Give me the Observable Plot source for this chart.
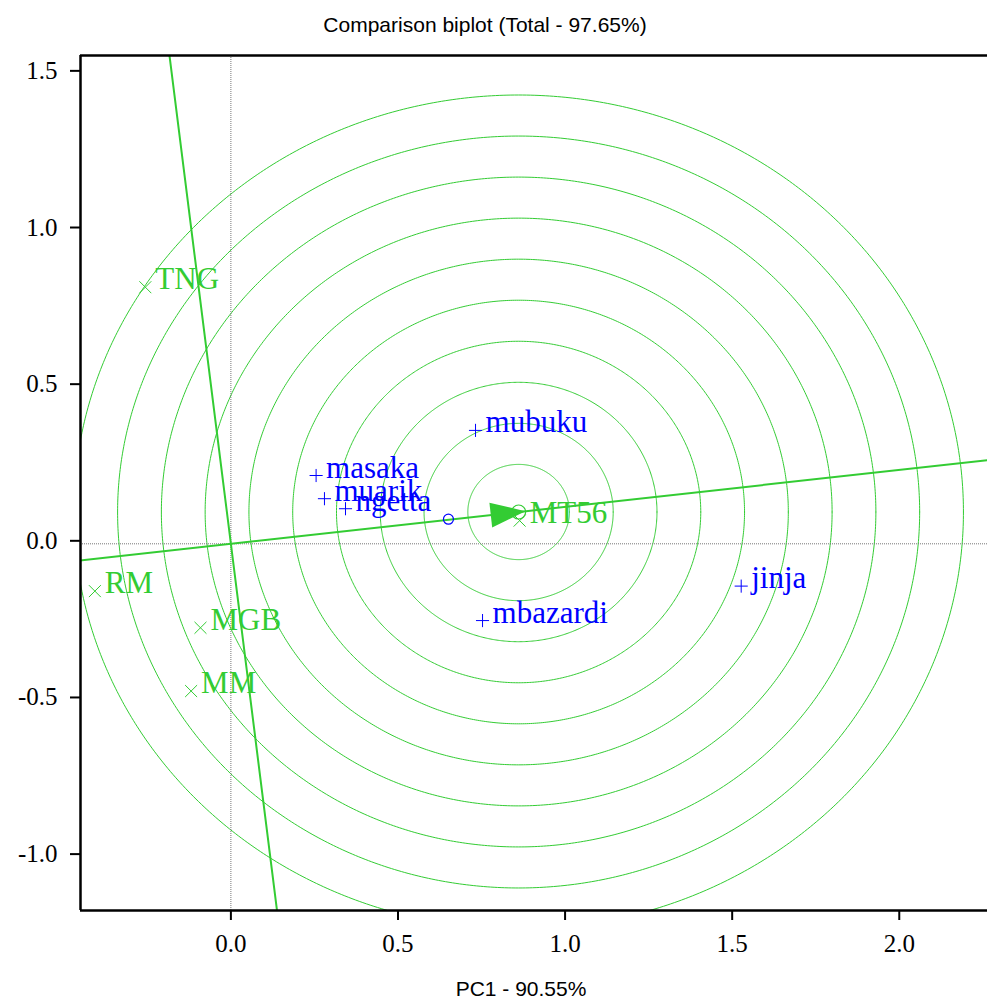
<!DOCTYPE html>
<html><head><meta charset="utf-8">
<script src="https://cdn.jsdelivr.net/npm/d3@7"></script>
<script src="https://cdn.jsdelivr.net/npm/@observablehq/plot@0.6"></script>
<style>body{margin:0;background:#fff;overflow:hidden}</style>
</head><body><div id="chart"></div>
<script>
// ---- data ----
const genotypes = ["mubuku", "masaka", "muarik", "ngetta", "mbazardi", "jinja"];
const genoPC1 = [0.732, 0.255, 0.280, 0.343, 0.753, 1.527];
const genoPC2 = [0.362, 0.218, 0.144, 0.112, -0.245, -0.135];
const environments = ["TNG", "RM", "MGB", "MM", "MT56"];
const envPC1 = [-0.256, -0.407, -0.091, -0.119, 0.864];
const envPC2 = [0.819, -0.151, -0.268, -0.470, 0.074];
const averageEnv = [0.651, 0.0785];
const idealPoint = [0.861, 0.1015];
const circleRadii = [0.152, 0.283, 0.414, 0.545, 0.676, 0.807, 0.938, 1.069, 1.200, 1.331];
const xTicks = [0, 0.5, 1, 1.5, 2];
const yTicks = [-1, -0.5, 0, 0.5, 1, 1.5];
const xDomain = [-0.450, 2.264];
const yDomain = [-1.1704, 1.5586];
const titleText = "Comparison biplot (Total - 97.65%)";
const xLabelText = "PC1 - 90.55%";

// ---- derived tables ----
const genoData = genotypes.map((n, i) => ({name: n, x: genoPC1[i], y: genoPC2[i]}));
const envData = environments.map((n, i) => ({name: n, x: envPC1[i], y: envPC2[i]}));
const circlePts = [];
for (const r of circleRadii) {
  for (let k = 0; k <= 720; k++) {
    const t = (k / 720) * 2 * Math.PI;
    circlePts.push({r, x: idealPoint[0] + r * Math.cos(t), y: idealPoint[1] + r * Math.sin(t)});
  }
}
const ext = 20;
const aeaLine = [-ext, ext].map(t => ({x: t * idealPoint[0], y: t * idealPoint[1]}));
const perpLine = [-ext, ext].map(t => ({x: -t * idealPoint[1], y: t * idealPoint[0]}));

const W = 987, H = 1001, mL = 80, mR = 0, mT = 55, mB = 91;
const kx = (W - mL - mR) / (xDomain[1] - xDomain[0]);
const ky = (H - mT - mB) / (yDomain[1] - yDomain[0]);
const angle = Math.atan2(-idealPoint[1] * ky, idealPoint[0] * kx) * 180 / Math.PI;
const arrowHead = {draw(ctx) { ctx.moveTo(7, 0); ctx.lineTo(-28, -12.5); ctx.lineTo(-28, 12.5); ctx.closePath(); }};

const green = "#33cc33";
const blue = "#0000ff";
const fmt = d => d.toFixed(1);
const sans = "'Liberation Sans', Arial, sans-serif";
const serif = "'Liberation Serif', 'Times New Roman', serif";

const chart = Plot.plot({
  width: W, height: H,
  marginLeft: mL, marginRight: mR, marginTop: mT, marginBottom: mB,
  style: {fontFamily: serif, fontSize: "25px", background: "white"},
  x: {domain: xDomain},
  y: {domain: yDomain},
  marks: [
    Plot.line(circlePts, {x: "x", y: "y", z: "r", stroke: green, strokeWidth: 1, clip: true}),
    Plot.ruleX([0], {stroke: "#777", strokeWidth: 1, strokeDasharray: "1,1"}),
    Plot.ruleY([0], {stroke: "#777", strokeWidth: 1, strokeDasharray: "1,1"}),
    Plot.line(aeaLine, {x: "x", y: "y", stroke: green, strokeWidth: 2, clip: true}),
    Plot.line(perpLine, {x: "x", y: "y", stroke: green, strokeWidth: 2, clip: true}),
    Plot.ruleX([xDomain[0]], {stroke: "black", strokeWidth: 2.5}),
    Plot.ruleY([yDomain[0]], {stroke: "black", strokeWidth: 2.5}),
    Plot.ruleY([yDomain[1]], {stroke: "black", strokeWidth: 2.5}),
    Plot.axisX({ticks: xTicks, tickFormat: fmt, tickSize: 10, tickPadding: 14, label: null, strokeWidth: 2, fontSize: 25}),
    Plot.axisY({ticks: yTicks, tickFormat: fmt, tickSize: 10, tickPadding: 13, label: null, strokeWidth: 2, fontSize: 25, dy: -3}),
    Plot.dot(genoData, {x: "x", y: "y", symbol: "plus", r: 4.3, stroke: blue, strokeWidth: 1}),
    Plot.text(genoData, {x: "x", y: "y", text: "name", fill: blue, textAnchor: "start", lineAnchor: "bottom", dx: 10, dy: 2, fontSize: 31}),
    Plot.dot(envData, {x: "x", y: "y", symbol: "times", r: 5.5, stroke: green, strokeWidth: 1}),
    Plot.text(envData, {x: "x", y: "y", text: "name", fill: green, textAnchor: "start", lineAnchor: "bottom", dx: 10, dy: 2, fontSize: 31}),
    Plot.dot([averageEnv], {x: d => d[0], y: d => d[1], r: 5, stroke: blue, strokeWidth: 1.2, fill: "none"}),
    Plot.dot([idealPoint], {x: d => d[0], y: d => d[1], r: 7, stroke: green, strokeWidth: 1.2, fill: "none"}),
    Plot.dot([idealPoint], {x: d => d[0], y: d => d[1], symbol: arrowHead, rotate: angle, fill: green, stroke: "none"}),
    Plot.text([titleText], {frameAnchor: "top", dx: -49, dy: -24, lineAnchor: "bottom", fontFamily: sans, fontSize: 21, fill: "black"}),
    Plot.text([xLabelText], {frameAnchor: "bottom", dx: -13, dy: 85, lineAnchor: "bottom", fontFamily: sans, fontSize: 21, fill: "black"})
  ]
});
document.getElementById("chart").append(chart);
</script>
</body></html>
